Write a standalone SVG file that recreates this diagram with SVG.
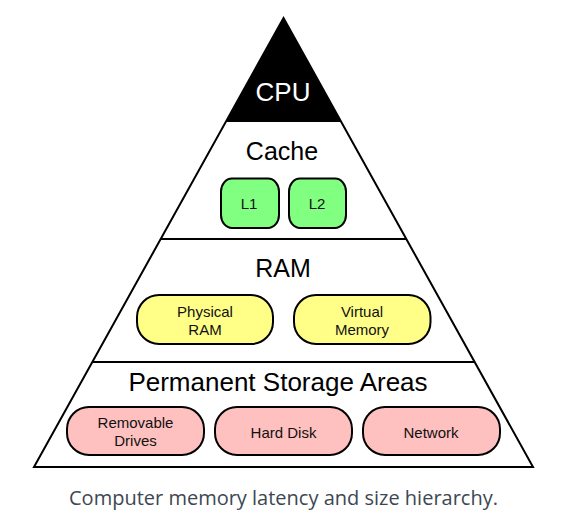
<svg xmlns="http://www.w3.org/2000/svg" width="573" height="525" viewBox="0 0 573 525">
<style>
.tier{fill:#ffffff;stroke:#000;stroke-width:2;stroke-linejoin:miter}
.div{stroke:#000;stroke-width:2}
.big{font-family:"Liberation Sans",Arial,sans-serif;font-size:25px;fill:#000;text-anchor:middle}
.sm{font-family:"Liberation Sans",Arial,sans-serif;font-size:15px;fill:#111;text-anchor:middle}
.box{stroke:#000;stroke-width:2}
.g{fill:#80ff80}
.y{fill:#ffff88}
.p{fill:#ffc0c0}
.cap{font-family:"Open Sans","Noto Sans",sans-serif;font-size:20px;fill:#3d4752;text-anchor:middle}
</style>
<rect width="573" height="525" fill="#fff"/>
<g id="pyramid">
<polygon class="tier" points="283.5,18 533,467 34,467"/>
<polygon points="283.5,18 340.8,121 226.2,121" fill="#000"/>
<line class="div" x1="226" y1="121" x2="341" y2="121"/>
<line class="div" x1="160.5" y1="239" x2="406.5" y2="239"/>
<line class="div" x1="92" y1="362" x2="475" y2="362"/>
</g>
<g id="cpu">
<text class="big" x="283" y="101" style="fill:#fff;font-size:26px">CPU</text>
</g>
<g id="cache">
<text class="big" x="282" y="160">Cache</text>
<g id="l1"><rect class="box g" x="221" y="178.5" width="58" height="49.5" rx="11" ry="13"/><text class="sm" x="249" y="208.5">L1</text></g>
<g id="l2"><rect class="box g" x="289" y="178.5" width="57" height="49.5" rx="11" ry="13"/><text class="sm" x="317" y="208.5">L2</text></g>
</g>
<g id="ram">
<text class="big" x="283" y="277">RAM</text>
<g id="physical"><rect class="box y" x="137" y="295" width="136" height="49" rx="22" ry="22"/><text class="sm" x="205" y="316.5">Physical</text><text class="sm" x="205" y="335">RAM</text></g>
<g id="virtual"><rect class="box y" x="294" y="295" width="136.5" height="49" rx="22" ry="22"/><text class="sm" x="362" y="316.5">Virtual</text><text class="sm" x="362" y="335">Memory</text></g>
</g>
<g id="storage">
<text class="big" x="278" y="391" style="font-size:26px">Permanent Storage Areas</text>
<g id="removable"><rect class="box p" x="67" y="407" width="137" height="48" rx="22" ry="22"/><text class="sm" x="135.5" y="428">Removable</text><text class="sm" x="135.5" y="446">Drives</text></g>
<g id="harddisk"><rect class="box p" x="215" y="407" width="137" height="48" rx="22" ry="22"/><text class="sm" x="283.5" y="437.5">Hard Disk</text></g>
<g id="network"><rect class="box p" x="363" y="407" width="137" height="48" rx="22" ry="22"/><text class="sm" x="431" y="437.5">Network</text></g>
</g>
<g id="connectors"></g>
<text class="cap" x="283.5" y="505">Computer memory latency and size hierarchy.</text>
</svg>
